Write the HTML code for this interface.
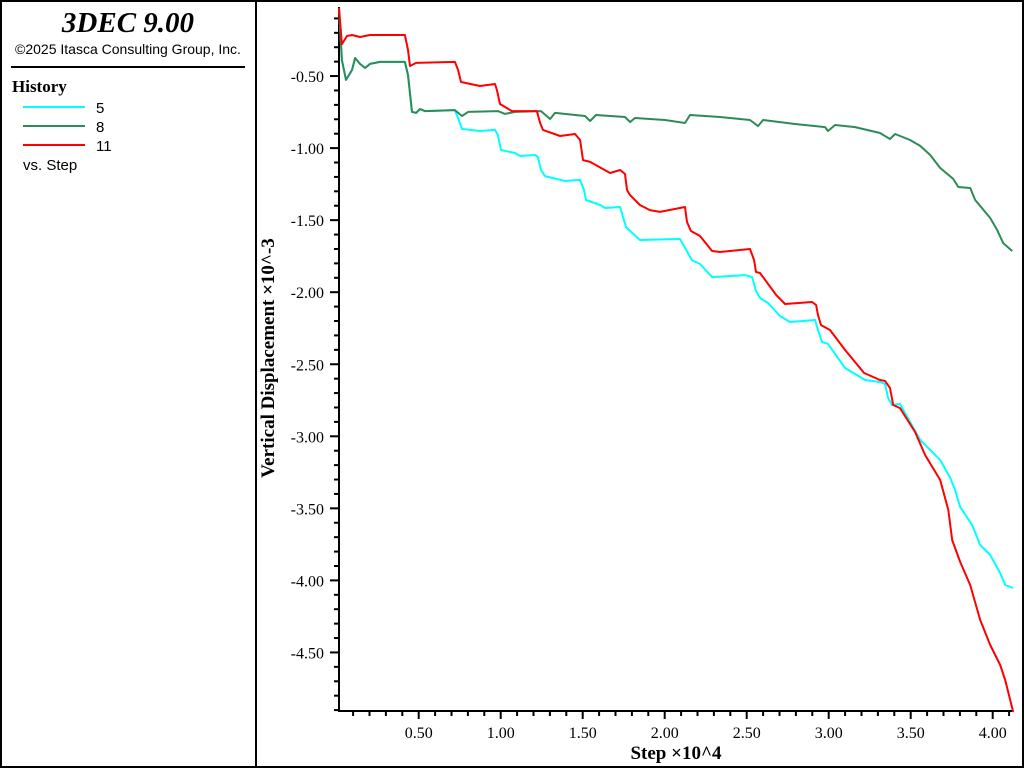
<!DOCTYPE html>
<html><head><meta charset="utf-8"><style>
body{margin:0;background:#fff;}
svg{display:block;}
</style></head><body>
<svg width="1024" height="768" viewBox="0 0 1024 768" xmlns="http://www.w3.org/2000/svg">
<rect x="1" y="1" width="1022" height="766" fill="#fff" stroke="#000" stroke-width="2"/>
<line x1="256" y1="0" x2="256" y2="768" stroke="#000" stroke-width="2"/>
<g font-family="Liberation Sans, sans-serif">
<text x="128" y="32" text-anchor="middle" font-family="Liberation Serif, serif" font-weight="bold" font-style="italic" font-size="29">3DEC 9.00</text>
<text x="128" y="54" text-anchor="middle" font-size="14">©2025 Itasca Consulting Group, Inc.</text>
<line x1="11" y1="67" x2="245" y2="67" stroke="#000" stroke-width="2"/>
<text x="12" y="92" font-family="Liberation Serif, serif" font-weight="bold" font-size="17">History</text>
<g><line x1="23" y1="107" x2="85" y2="107" stroke="#00ffff" stroke-width="2"/><text x="96" y="113" font-size="15">5</text></g>
<g><line x1="23" y1="126" x2="85" y2="126" stroke="#2e8b57" stroke-width="2"/><text x="96" y="132" font-size="15">8</text></g>
<g><line x1="23" y1="145" x2="85" y2="145" stroke="#ff0000" stroke-width="2"/><text x="96" y="151" font-size="15">11</text></g>
<text x="23" y="170" font-size="15">vs. Step</text>
</g>
<g id="axes"></g>
<g id="series"></g>
<text x="676" y="759" text-anchor="middle" font-family="Liberation Serif, serif" font-weight="bold" font-size="19">Step ×10^4</text>
<text transform="translate(274,358) rotate(-90)" text-anchor="middle" font-family="Liberation Serif, serif" font-weight="bold" font-size="19">Vertical Displacement ×10^-3</text>
</svg>
<script>
const xTickLabels = ["0.50","1.00","1.50","2.00","2.50","3.00","3.50","4.00"];
const yTickLabels = ["-0.50","-1.00","-1.50","-2.00","-2.50","-3.00","-3.50","-4.00","-4.50"];
const greenX = [0.014,0.032,0.057,0.093,0.112,0.142,0.173,0.203,0.264,0.416,0.435,0.459,0.484,0.508,0.538,0.721,0.764,0.801,0.983,1.026,1.087,1.246,1.301,1.331,1.514,1.545,1.581,1.758,1.789,1.819,2.002,2.124,2.154,2.337,2.520,2.569,2.600,2.795,2.978,2.996,3.039,3.161,3.313,3.374,3.405,3.496,3.558,3.619,3.680,3.759,3.790,3.863,3.893,3.924,3.985,4.027,4.064,4.119];
const greenY = [-0.028,-0.389,-0.527,-0.458,-0.375,-0.416,-0.444,-0.416,-0.402,-0.402,-0.493,-0.749,-0.756,-0.729,-0.743,-0.736,-0.777,-0.749,-0.743,-0.763,-0.749,-0.743,-0.798,-0.756,-0.777,-0.812,-0.770,-0.784,-0.819,-0.791,-0.805,-0.826,-0.770,-0.784,-0.805,-0.847,-0.805,-0.833,-0.854,-0.881,-0.840,-0.854,-0.895,-0.937,-0.902,-0.944,-0.985,-1.048,-1.138,-1.214,-1.270,-1.277,-1.360,-1.402,-1.485,-1.568,-1.659,-1.714];
const cyanX = [0.014,0.032,0.057,0.093,0.112,0.142,0.173,0.203,0.264,0.416,0.435,0.459,0.484,0.508,0.538,0.721,0.740,0.764,0.874,0.965,0.983,1.002,1.087,1.118,1.209,1.227,1.246,1.270,1.392,1.484,1.508,1.520,1.606,1.636,1.728,1.740,1.764,1.849,2.081,2.093,2.166,2.215,2.289,2.490,2.533,2.557,2.581,2.630,2.703,2.764,2.917,2.935,2.960,2.996,3.100,3.222,3.313,3.344,3.362,3.386,3.435,3.558,3.680,3.741,3.771,3.802,3.875,3.924,3.985,4.046,4.076,4.125];
const cyanY = [-0.028,-0.389,-0.527,-0.458,-0.375,-0.416,-0.444,-0.416,-0.402,-0.402,-0.493,-0.749,-0.756,-0.729,-0.743,-0.736,-0.791,-0.867,-0.881,-0.874,-0.909,-1.013,-1.034,-1.055,-1.048,-1.062,-1.152,-1.194,-1.228,-1.221,-1.291,-1.360,-1.395,-1.416,-1.409,-1.457,-1.548,-1.638,-1.631,-1.631,-1.777,-1.804,-1.895,-1.881,-1.895,-1.992,-2.040,-2.075,-2.165,-2.207,-2.193,-2.262,-2.346,-2.359,-2.526,-2.609,-2.623,-2.637,-2.734,-2.783,-2.776,-3.026,-3.164,-3.289,-3.373,-3.491,-3.616,-3.754,-3.824,-3.949,-4.032,-4.053];
const redX = [0.014,0.032,0.063,0.093,0.142,0.203,0.416,0.435,0.447,0.484,0.721,0.740,0.758,0.874,0.965,0.977,0.996,1.069,1.221,1.240,1.258,1.362,1.453,1.484,1.502,1.545,1.667,1.728,1.758,1.770,1.788,1.849,1.910,1.971,2.124,2.136,2.160,2.215,2.289,2.337,2.520,2.545,2.557,2.581,2.679,2.734,2.899,2.923,2.935,2.953,3.008,3.100,3.216,3.313,3.344,3.374,3.393,3.435,3.527,3.588,3.680,3.729,3.753,3.802,3.863,3.924,3.985,4.046,4.076,4.125];
const redY = [-0.028,-0.278,-0.222,-0.215,-0.229,-0.215,-0.215,-0.319,-0.430,-0.409,-0.402,-0.458,-0.541,-0.569,-0.555,-0.597,-0.694,-0.743,-0.743,-0.826,-0.874,-0.916,-0.902,-0.944,-1.083,-1.096,-1.173,-1.152,-1.180,-1.291,-1.325,-1.395,-1.430,-1.443,-1.409,-1.513,-1.575,-1.610,-1.714,-1.721,-1.700,-1.777,-1.860,-1.867,-2.019,-2.082,-2.068,-2.089,-2.158,-2.228,-2.262,-2.401,-2.561,-2.609,-2.616,-2.665,-2.783,-2.804,-2.970,-3.130,-3.303,-3.511,-3.720,-3.872,-4.032,-4.275,-4.448,-4.587,-4.691,-4.913];

const NS = "http://www.w3.org/2000/svg";
const X0 = 336.7, XS = 164, Y0 = 4, YS = 144.1;
function sx(v){ return X0 + v * XS; }
function sy(v){ return Y0 - v * YS; }
const axL = 339, axR = 1012, axT = 7, axB = 711;
const axes = document.getElementById('axes');
const series = document.getElementById('series');
function mk(tag, attrs, parent){ const e = document.createElementNS(NS, tag); for (const k in attrs) e.setAttribute(k, attrs[k]); parent.appendChild(e); return e; }

const yAxis = mk('line', {x1:axL, y1:axT, x2:axL, y2:axB, stroke:'#000', 'stroke-width':2}, axes);


const xAxis = mk('line', {x1:axL-1, y1:axB, x2:axR, y2:axB, stroke:'#000', 'stroke-width':2}, axes);



// minor/major ticks
for (let i = 1; i <= 41; i++) {
  const v = i / 10; const px = sx(v);
  if (px < axL || px > axR) continue;
  const major = i % 5 === 0;
  const t = mk('line', {x1:px, y1:axB, x2:px, y2:axB + (major ? 8 : 5), stroke:'#000', 'stroke-width':2}, axes);
  
  
}
for (let i = 1; i <= 49; i++) {
  const v = -i / 10; const py = sy(v);
  if (py < axT || py > axB) continue;
  const major = i % 5 === 0;
  const t = mk('line', {x1:axL - (major ? 9 : 5), y1:py, x2:axL, y2:py, stroke:'#000', 'stroke-width':2}, axes);
  
  
}
xTickLabels.forEach(function(lbl){
  const t = mk('text', {x:sx(parseFloat(lbl)), y:738, 'text-anchor':'middle', 'font-family':'Liberation Serif, serif', 'font-size':16}, axes);
  t.textContent = lbl;
  
  
});
yTickLabels.forEach(function(lbl){
  const t = mk('text', {x:324, y:sy(parseFloat(lbl)) + 6, 'text-anchor':'end', 'font-family':'Liberation Serif, serif', 'font-size':16}, axes);
  t.textContent = lbl;
  
  
});
function drawLine(xs, ys, color, name){
  const d = xs.map(function(x, i){ return (i ? 'L' : 'M') + sx(x).toFixed(1) + ',' + sy(ys[i]).toFixed(1); }).join(' ');
  const p = mk('path', {d:d, fill:'none', stroke:color, 'stroke-width':2, 'stroke-linejoin':'round'}, series);
  
  
}
drawLine(cyanX, cyanY, '#00ffff', 'series-5');
drawLine(greenX, greenY, '#2e8b57', 'series-8');
drawLine(redX, redY, '#ff0000', 'series-11');
</script>
</body></html>
